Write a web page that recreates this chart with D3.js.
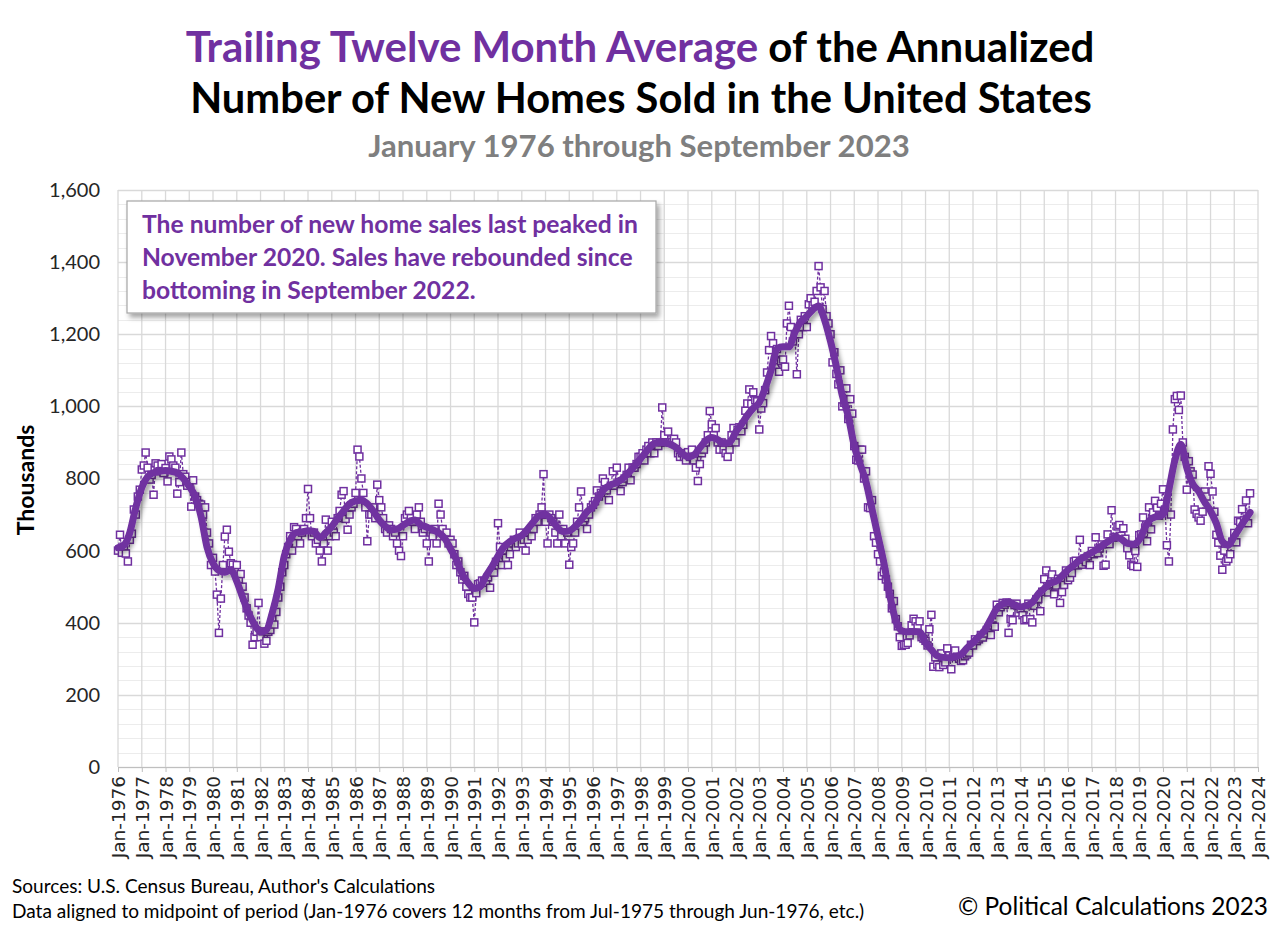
<!DOCTYPE html>
<html><head><meta charset="utf-8">
<script src="https://cdn.jsdelivr.net/npm/d3@7"></script>
<style>body{margin:0;background:#fff}svg{display:block}</style>
</head><body>
<svg id="chart" width="1280" height="931"></svg>
<script>
// ---- Monthly annualized new home sales (thousands), Jan 1976 .. Sep 2023 ----
const sales1976to1979 = [
  600,644,594,611,592,570,630,647,714,700,750,769,
  825,836,872,830,797,810,755,842,836,820,840,815,
  829,792,861,853,836,830,758,790,872,812,805,780,
  790,722,795,750,740,730,728,700,720,650,620,560];
const sales1980s = [
  580,542,478,372,467,560,639,658,597,565,561,545,
  560,520,535,500,470,440,420,400,339,360,375,455,
  360,376,342,350,375,380,410,395,430,470,500,540,
  560,590,610,640,600,665,660,640,620,650,660,690,
  771,690,640,650,620,630,600,570,620,686,600,640,
  680,650,640,690,710,755,765,688,658,700,720,730,
  760,880,861,800,760,720,626,700,700,720,690,783,
  740,720,690,660,650,670,660,640,650,620,600,585,
  640,690,700,710,690,680,660,700,720,680,650,660,
  620,570,650,640,660,620,730,700,660,640,650,620];
const sales1990s = [
  630,620,590,560,570,540,520,530,500,480,470,470,
  401,482,507,509,517,516,511,526,497,541,539,569,
  676,610,560,600,580,560,590,620,630,610,620,650,
  620,630,600,630,650,640,660,690,680,700,720,812,
  680,620,700,690,680,650,620,700,640,660,620,650,
  561,610,620,650,680,720,764,680,690,660,700,720,
  727,737,767,750,760,800,790,767,740,780,820,780,
  830,790,765,790,800,810,830,795,830,830,840,860,
  860,870,850,880,890,870,900,870,900,890,900,997,
  920,900,930,900,900,910,900,870,860,870,860,850];
const sales2000s = [
  873,860,880,850,830,793,840,870,880,900,920,987,
  950,920,940,900,880,900,880,870,860,880,920,940,
  900,935,942,931,949,988,1008,1047,1007,1039,1017,1014,
  936,994,1009,1045,1094,1156,1195,1175,1128,1159,1096,1125,
  1130,1110,1230,1279,1220,1180,1200,1089,1200,1240,1220,1250,
  1220,1283,1300,1280,1290,1320,1389,1330,1270,1320,1250,1230,
  1200,1122,1150,1090,1061,1100,1000,1010,1050,965,1020,980,
  890,852,850,880,880,800,820,720,718,740,640,622,
  590,570,530,540,520,500,480,440,460,410,390,360,
  336,339,339,344,365,393,411,404,390,404,360,356];
const sales2010s = [
  350,337,382,422,278,304,284,277,315,283,290,329,
  309,271,306,323,306,300,294,296,307,312,317,339,
  337,354,349,354,366,359,370,380,386,366,392,389,
  450,429,443,455,450,456,372,410,407,449,453,428,
  438,421,407,410,453,410,401,447,465,466,432,486,
  521,545,484,507,534,479,503,522,455,485,505,545,
  518,525,538,570,572,559,630,561,575,568,584,560,
  599,590,637,593,606,617,558,561,645,618,712,636,
  638,667,671,641,662,633,607,587,561,557,599,555,
  643,645,692,664,626,720,659,706,738,719,697,730];
const sales2020s = [
  770,714,615,570,700,936,1020,1029,990,1030,900,860,
  769,848,820,811,714,702,692,683,708,764,750,834,
  813,764,708,644,622,586,547,600,570,577,590,625,
  649,623,683,679,715,684,739,676,759];

// ---- Trailing twelve month average, read each quarter (Jan, Apr, Jul, Oct) from Jan 1976; final value is Sep 2023 ----
const ttmQuarterly = [
  608,615,650,720,  775,805,816,820,  822,820,815,800,  778,750,695,610,
  565,545,540,547,  515,470,428,395,  375,380,428,495,  585,630,650,652,
  655,653,636,650,  667,690,710,730,  738,740,730,710,  685,668,658,660,
  670,680,685,672,  665,658,650,635,  605,575,535,510,  495,500,530,556,
  585,611,625,635,  642,660,680,698,  700,686,665,653,  655,667,685,708,
  722,750,772,782,  789,800,816,835,  855,875,894,900,  900,895,886,870,
  860,865,885,905,  914,908,898,900,  928,950,975,995,  1011,1050,1100,1160,
  1165,1165,1205,1235, 1250,1268,1278,1240, 1180,1110,1030,972, 890,840,790,715,
  640,565,475,405,  378,375,376,375,  345,325,308,304,  303,306,312,330,
  345,362,380,410,  440,452,458,450,  444,448,456,480,  495,510,515,530,
  547,560,575,585,  595,605,617,628,  638,632,620,618,  630,665,688,695,
  700,770,850,895,  830,785,765,735,  710,675,625,615,  640,665,690,706];

const yTicks = [0,200,400,600,800,1000,1200,1400,1600];
const yMinorStep = 40;
const xTickYears = d3.range(1976, 2025);

const titleLine1Purple = "Trailing Twelve Month Average";
const titleLine1Black = " of the Annualized";
const titleLine2 = "Number of New Homes Sold in the United States";
const subtitle = "January 1976 through September 2023";
const noteLines = ["The number of new home sales last peaked in",
                   "November 2020. Sales have rebounded since",
                   "bottoming in September 2022."];
const sourceLines = ["Sources: U.S. Census Bureau, Author's Calculations",
  "Data aligned to midpoint of period (Jan-1976 covers 12 months from Jul-1975 through Jun-1976, etc.)"];
const copyright = "\u00A9 Political Calculations 2023";

// ---- build series ----
const monthly = [].concat(sales1976to1979, sales1980s, sales1990s, sales2000s, sales2010s, sales2020s);
const monthlyData = monthly.map((v, i) => ({date: new Date(Date.UTC(1976, i, 1)), value: v}));
const ttmData = ttmQuarterly.map((v, i) => ({
  date: i < ttmQuarterly.length - 1 ? new Date(Date.UTC(1976, i * 3, 1)) : new Date(Date.UTC(2023, 8, 1)),
  value: v}));

const purple = "#7030A0";
const L = 118, R = 1258, T = 190, B = 767;
const svg = d3.select("#chart");
const x = d3.scaleUtc().domain([new Date(Date.UTC(1976,0,1)), new Date(Date.UTC(2024,0,1))]).range([L, R]);
const y = d3.scaleLinear().domain([0, 1600]).range([B, T]);

const defs = svg.append("defs");
const sh = defs.append("filter").attr("id","lineShadow").attr("x","-5%").attr("y","-5%").attr("width","110%").attr("height","110%");
sh.append("feDropShadow").attr("dx",3).attr("dy",3).attr("stdDeviation",2).attr("flood-color","#000").attr("flood-opacity",0.35);
const bsh = defs.append("filter").attr("id","boxShadow").attr("x","-10%").attr("y","-10%").attr("width","120%").attr("height","130%");
bsh.append("feDropShadow").attr("dx",3).attr("dy",4).attr("stdDeviation",2.5).attr("flood-color","#000").attr("flood-opacity",0.35);

function fit(sel, w) {
  const cur = sel.node().getComputedTextLength();
  const fs = parseFloat(sel.style("font-size"));
  const n = fs * w / cur;
  sel.style("font-size", n + "px");
  return n;
}

// ---- grid ----
const grid = svg.append("g");
grid.selectAll("line.minor").data(d3.range(0, 1601, yMinorStep).filter(v => v % 200 !== 0)).join("line")
  .attr("x1", L).attr("x2", R).attr("y1", d => Math.round(y(d)) + 0.5).attr("y2", d => Math.round(y(d)) + 0.5)
  .attr("stroke", "#ececec").attr("stroke-width", 1);
grid.selectAll("line.vert").data(xTickYears).join("line")
  .attr("x1", d => x(new Date(Date.UTC(d,0,1)))).attr("x2", d => x(new Date(Date.UTC(d,0,1))))
  .attr("y1", T).attr("y2", B).attr("stroke", "#d9d9d9").attr("stroke-width", 1.3);
grid.selectAll("line.major").data(yTicks).join("line")
  .attr("x1", L).attr("x2", R).attr("y1", d => Math.round(y(d)) + 0.5).attr("y2", d => Math.round(y(d)) + 0.5)
  .attr("stroke", "#d9d9d9").attr("stroke-width", 1.3);

// ---- axes ----
const xAxis = svg.append("g").attr("transform", `translate(0,${B})`)
  .call(d3.axisBottom(x).tickValues(xTickYears.map(d => new Date(Date.UTC(d,0,1))))
    .tickFormat(d3.utcFormat("Jan-%Y")).tickSize(5).tickPadding(4));
xAxis.select(".domain").attr("stroke", "#bfbfbf");
xAxis.selectAll(".tick line").attr("stroke", "#bfbfbf");
xAxis.selectAll("text").attr("transform", "rotate(-90)").attr("x", -9).attr("y", 0).attr("dy", "0.36em")
  .style("text-anchor", "end").style("font-family", "'DejaVu Sans'").style("font-size", "18.5px").attr("fill", "#262626");

const yAxis = svg.append("g").attr("transform", `translate(${L},0)`)
  .call(d3.axisLeft(y).tickValues(yTicks).tickFormat(d3.format(",")).tickSize(0).tickPadding(18));
yAxis.select(".domain").remove();
yAxis.selectAll("text").style("font-family", "Lato").style("font-size", "20px").attr("fill", "#262626");

svg.append("text").attr("transform", "translate(34,480) rotate(-90)").attr("text-anchor", "middle")
  .style("font-family", "Lato").style("font-weight", "bold").style("font-size", "23px").attr("fill", "#000")
  .text("Thousands");

// ---- monthly series ----
const monthlyLine = d3.line().x(d => x(d.date)).y(d => y(d.value));
svg.append("path").datum(monthlyData).attr("d", monthlyLine).attr("fill", "none")
  .attr("stroke", purple).attr("stroke-width", 1.3).attr("stroke-dasharray", "3,2");
svg.append("g").selectAll("rect").data(monthlyData).join("rect")
  .attr("x", d => x(d.date) - 3.5).attr("y", d => y(d.value) - 3.5).attr("width", 7).attr("height", 7)
  .attr("fill", "#fff").attr("stroke", purple).attr("stroke-width", 1.5);

// ---- TTM line ----
const ttmLine = d3.line().curve(d3.curveMonotoneX).x(d => x(d.date)).y(d => y(d.value));
svg.append("path").datum(ttmData).attr("d", ttmLine).attr("fill", "none")
  .attr("stroke", purple).attr("stroke-width", 7).attr("stroke-linejoin", "round").attr("stroke-linecap", "round")
  .attr("filter", "url(#lineShadow)");

// ---- annotation ----
svg.append("rect").attr("x", 127).attr("y", 201).attr("width", 529).attr("height", 112)
  .attr("fill", "#fff").attr("stroke", "#a6a6a6").attr("stroke-width", 1.2).attr("filter", "url(#boxShadow)");
const noteText = svg.append("g").selectAll("text").data(noteLines).join("text")
  .attr("x", 142).attr("y", (d, i) => 233 + i * 33)
  .style("font-family", "Lato").style("font-weight", "bold").style("font-size", "22px").attr("fill", purple)
  .text(d => d);
const nfs = fit(d3.select(noteText.nodes()[0]), 496);
noteText.style("font-size", nfs + "px");

// ---- titles ----
const t1 = svg.append("text").attr("x", 640).attr("y", 62).attr("text-anchor", "middle")
  .style("font-family", "Lato").style("font-weight", "bold").style("font-size", "40px");
t1.append("tspan").attr("fill", purple).text(titleLine1Purple);
t1.append("tspan").attr("fill", "#000").text(titleLine1Black);
fit(t1, 909);
const t2 = svg.append("text").attr("x", 641).attr("y", 113).attr("text-anchor", "middle")
  .style("font-family", "Lato").style("font-weight", "bold").style("font-size", "40px").attr("fill", "#000")
  .text(titleLine2);
fit(t2, 902);
const t3 = svg.append("text").attr("x", 639).attr("y", 157).attr("text-anchor", "middle")
  .style("font-family", "Lato").style("font-weight", "bold").style("font-size", "28px").attr("fill", "#7f7f7f")
  .text(subtitle);
fit(t3, 542);

// ---- footer ----
const s1 = svg.append("text").attr("x", 12).attr("y", 893)
  .style("font-family", "Lato").style("font-size", "17px").attr("fill", "#000").text(sourceLines[0]);
const s2 = svg.append("text").attr("x", 12).attr("y", 918)
  .style("font-family", "Lato").style("font-size", "17px").attr("fill", "#000").text(sourceLines[1]);
const sfs = fit(s2, 853);
s1.style("font-size", sfs + "px");
const cp = svg.append("text").attr("x", 1268).attr("y", 915).attr("text-anchor", "end")
  .style("font-family", "Lato").style("font-size", "22px").attr("fill", "#000").text(copyright);
fit(cp, 310);
</script>
</body></html>
